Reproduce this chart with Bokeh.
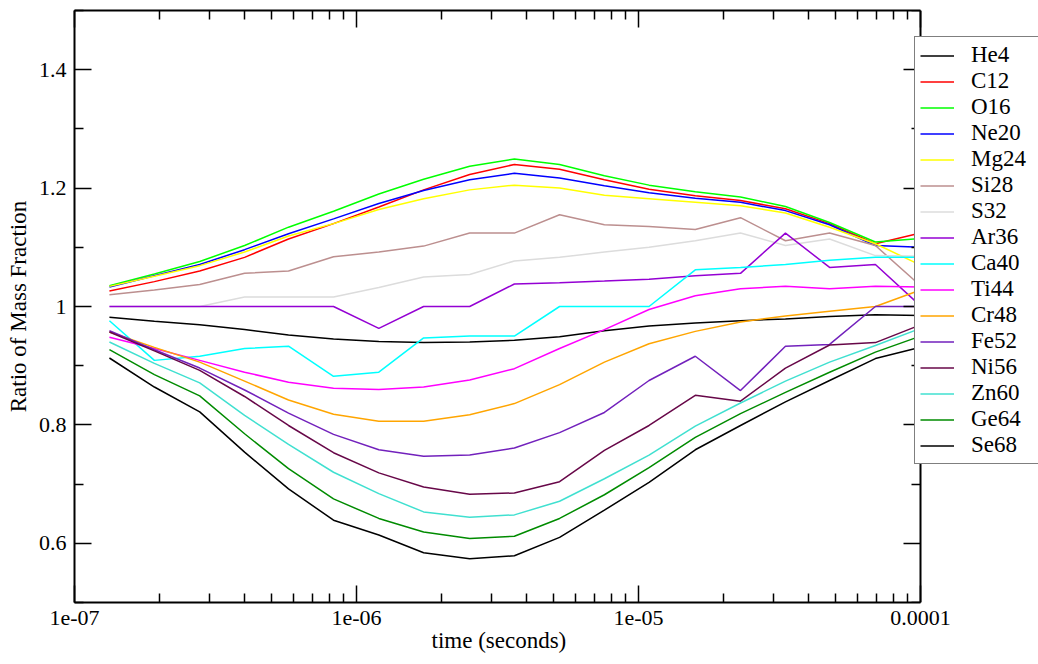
from bokeh.plotting import figure
from bokeh.models import (Range1d, FixedTicker, LogAxis, LinearAxis, Legend, LegendItem,
                          CustomJSTickFormatter, Title)
from bokeh.embed import file_html
from bokeh.resources import INLINE

# ---- data ----
times = [1.33e-7, 1.92e-7, 2.78e-7, 4.01e-7, 5.74e-7, 8.29e-7, 1.20e-6, 1.73e-6, 2.52e-6,
         3.63e-6, 5.25e-6, 7.57e-6, 1.09e-5, 1.59e-5, 2.30e-5, 3.32e-5, 4.76e-5, 6.92e-5, 1.0e-4]

He4 = [0.982, 0.975, 0.969, 0.961, 0.952, 0.945, 0.941, 0.939, 0.940, 0.943, 0.949, 0.959,
       0.967, 0.972, 0.976, 0.979, 0.983, 0.986, 0.985]
C12 = [1.026, 1.042, 1.060, 1.083, 1.114, 1.140, 1.168, 1.197, 1.223, 1.240, 1.232, 1.214,
       1.198, 1.187, 1.179, 1.165, 1.140, 1.106, 1.124]
O16 = [1.035, 1.055, 1.076, 1.103, 1.134, 1.161, 1.190, 1.215, 1.237, 1.249, 1.240, 1.221,
       1.205, 1.194, 1.185, 1.169, 1.142, 1.109, 1.115]
Ne20 = [1.033, 1.052, 1.071, 1.096, 1.123, 1.148, 1.174, 1.196, 1.214, 1.225, 1.217, 1.204,
        1.192, 1.183, 1.176, 1.162, 1.138, 1.103, 1.100]
Mg24 = [1.034, 1.051, 1.069, 1.092, 1.119, 1.140, 1.164, 1.182, 1.197, 1.205, 1.200, 1.188,
        1.182, 1.176, 1.170, 1.158, 1.134, 1.106, 1.070]
Si28 = [1.020, 1.028, 1.037, 1.056, 1.060, 1.084, 1.092, 1.102, 1.124, 1.124, 1.155, 1.138,
        1.135, 1.130, 1.150, 1.111, 1.124, 1.103, 1.035]
S32 = [1.000, 1.000, 1.000, 1.016, 1.016, 1.016, 1.032, 1.050, 1.054, 1.077, 1.083, 1.092,
       1.100, 1.111, 1.124, 1.103, 1.114, 1.086, 1.085]
Ar36 = [1.000, 1.000, 1.000, 1.000, 1.000, 1.000, 0.963, 1.000, 1.000, 1.038, 1.040, 1.043,
        1.046, 1.052, 1.056, 1.124, 1.066, 1.071, 1.001]
Ca40 = [0.976, 0.909, 0.916, 0.929, 0.933, 0.882, 0.889, 0.947, 0.950, 0.950, 1.000, 1.000,
        1.000, 1.062, 1.066, 1.071, 1.078, 1.083, 1.083]
Ti44 = [0.948, 0.929, 0.909, 0.889, 0.872, 0.862, 0.860, 0.864, 0.876, 0.895, 0.929, 0.961,
        0.995, 1.018, 1.030, 1.034, 1.030, 1.034, 1.033]
Cr48 = [0.957, 0.931, 0.906, 0.874, 0.842, 0.818, 0.806, 0.806, 0.817, 0.836, 0.868, 0.906,
        0.937, 0.958, 0.974, 0.984, 0.992, 1.000, 1.028]
Fe52 = [0.959, 0.927, 0.896, 0.859, 0.820, 0.784, 0.758, 0.747, 0.749, 0.761, 0.787, 0.821,
        0.875, 0.916, 0.858, 0.933, 0.936, 1.000, 1.000]
Ni56 = [0.957, 0.925, 0.892, 0.848, 0.799, 0.753, 0.719, 0.695, 0.683, 0.685, 0.704, 0.757,
        0.799, 0.850, 0.840, 0.896, 0.935, 0.939, 0.969]
Zn60 = [0.940, 0.904, 0.871, 0.816, 0.767, 0.720, 0.684, 0.653, 0.644, 0.648, 0.671, 0.709,
        0.749, 0.798, 0.837, 0.874, 0.906, 0.934, 0.963]
Ge64 = [0.927, 0.885, 0.849, 0.785, 0.726, 0.675, 0.642, 0.619, 0.608, 0.612, 0.642, 0.682,
        0.728, 0.779, 0.819, 0.855, 0.889, 0.923, 0.950]
Se68 = [0.913, 0.864, 0.822, 0.754, 0.692, 0.639, 0.614, 0.584, 0.574, 0.579, 0.610, 0.656,
        0.703, 0.758, 0.799, 0.839, 0.875, 0.912, 0.931]

series_names = ["He4", "C12", "O16", "Ne20", "Mg24", "Si28", "S32", "Ar36", "Ca40", "Ti44",
                "Cr48", "Fe52", "Ni56", "Zn60", "Ge64", "Se68"]
series_values = [He4, C12, O16, Ne20, Mg24, Si28, S32, Ar36, Ca40, Ti44,
                 Cr48, Fe52, Ni56, Zn60, Ge64, Se68]
series_colors = ["#000000", "#ff0000", "#00ff00", "#0000ff", "#ffff00", "#bc8f8f", "#dcdcdc",
                 "#9400d3", "#00ffff", "#ff00ff", "#ffa500", "#7221bc", "#670748", "#40e0d0",
                 "#008b00", "#000000"]

x_ticks = [1e-7, 1e-6, 1e-5, 1e-4]
x_tick_labels = ["1e-07", "1e-06", "1e-05", "0.0001"]
x_minor = [m * d for d in [1e-7, 1e-6, 1e-5] for m in range(2, 10)]
y_ticks = [0.6, 0.8, 1.0, 1.2, 1.4]
y_tick_labels = ["0.6", "0.8", "1", "1.2", "1.4"]
y_minor = [0.5, 0.7, 0.9, 1.1, 1.3, 1.5]

x_start, x_end = 1e-7, 1e-4          # axis extent
x_view_end = 2.621e-4                # frame runs on past the axis, under the legend

FONT = "Liberation Serif"

p = figure(width=1038, height=664, x_axis_type="log", output_backend="svg",
           toolbar_location=None, x_range=Range1d(x_start, x_view_end),
           y_range=Range1d(0.5, 1.5),
           min_border_left=74, min_border_right=0, min_border_top=10, min_border_bottom=62)
p.xgrid.visible = False
p.ygrid.visible = False
p.outline_line_color = None
p.background_fill_color = "white"
p.border_fill_color = "white"

x_fmt = CustomJSTickFormatter(args=dict(tvals=x_ticks, tlabels=x_tick_labels), code="""
for (let i = 0; i < tvals.length; i++) { if (Math.abs(tick / tvals[i] - 1) < 1e-6) return tlabels[i]; }
return '';
""")
y_fmt = CustomJSTickFormatter(args=dict(tvals=y_ticks, tlabels=y_tick_labels), code="""
for (let i = 0; i < tvals.length; i++) { if (Math.abs(tick - tvals[i]) < 1e-9) return tlabels[i]; }
return '';
""")
blank_fmt = CustomJSTickFormatter(code="return '';")


def style(ax):
    ax.axis_line_width = 2
    ax.axis_line_color = "black"
    ax.major_tick_in = 17
    ax.major_tick_out = 0
    ax.minor_tick_in = 9
    ax.minor_tick_out = 0
    ax.major_tick_line_width = 1.5
    ax.minor_tick_line_width = 1.5
    ax.major_label_text_font = FONT
    ax.major_label_text_font_size = "22px"
    ax.major_label_text_color = "black"
    ax.axis_label_text_font = FONT
    ax.axis_label_text_font_size = "23px"
    ax.axis_label_text_font_style = "normal"
    ax.axis_label_text_color = "black"


xa = p.xaxis[0]
xa.ticker = FixedTicker(ticks=x_ticks, minor_ticks=x_minor)
xa.formatter = x_fmt
xa.bounds = (x_start, x_end)
style(xa)
xa.major_label_standoff = 8

# x-axis title, centred under the axis extent (not under the whole frame)
xtitle = Title(text="time (seconds)", align="left", offset=357, standoff=0,
               text_font=FONT, text_font_size="23px", text_font_style="normal",
               text_color="black", vertical_align="top")
p.add_layout(xtitle, "below")

ya = p.yaxis[0]
ya.ticker = FixedTicker(ticks=y_ticks, minor_ticks=y_minor)
ya.formatter = y_fmt
ya.axis_label = "Ratio of Mass Fraction"
style(ya)
ya.major_label_standoff = 8
ya.axis_label_standoff = 5

top = LogAxis(ticker=FixedTicker(ticks=x_ticks, minor_ticks=x_minor), formatter=blank_fmt,
              bounds=(x_start, x_end))
style(top)
top.major_label_text_font_size = "0px"
top.major_label_standoff = 0
p.add_layout(top, "above")

right = LinearAxis(ticker=FixedTicker(ticks=y_ticks, minor_ticks=y_minor), formatter=blank_fmt,
                   fixed_location=x_end)
style(right)
right.major_label_text_font_size = "0px"
right.major_label_standoff = 0
p.add_layout(right, "right")

items = []
for name, vals, col in zip(series_names, series_values, series_colors):
    r = p.line(times, vals, line_color=col, line_width=1.5)
    items.append(LegendItem(label=name, renderers=[r]))

legend = Legend(items=items, location=(840, 138))
legend.border_line_color = "black"
legend.border_line_width = 1.5
legend.background_fill_color = "white"
legend.background_fill_alpha = 1.0
legend.label_text_font = FONT
legend.label_text_font_size = "23px"
legend.label_text_color = "black"
legend.glyph_width = 34
legend.glyph_height = 21
legend.label_height = 21
legend.label_width = 80
legend.label_standoff = 17
legend.spacing = -4
legend.padding = 5
legend.margin = 0
p.add_layout(legend, "center")

open("out.html", "w").write(file_html(p, INLINE))
